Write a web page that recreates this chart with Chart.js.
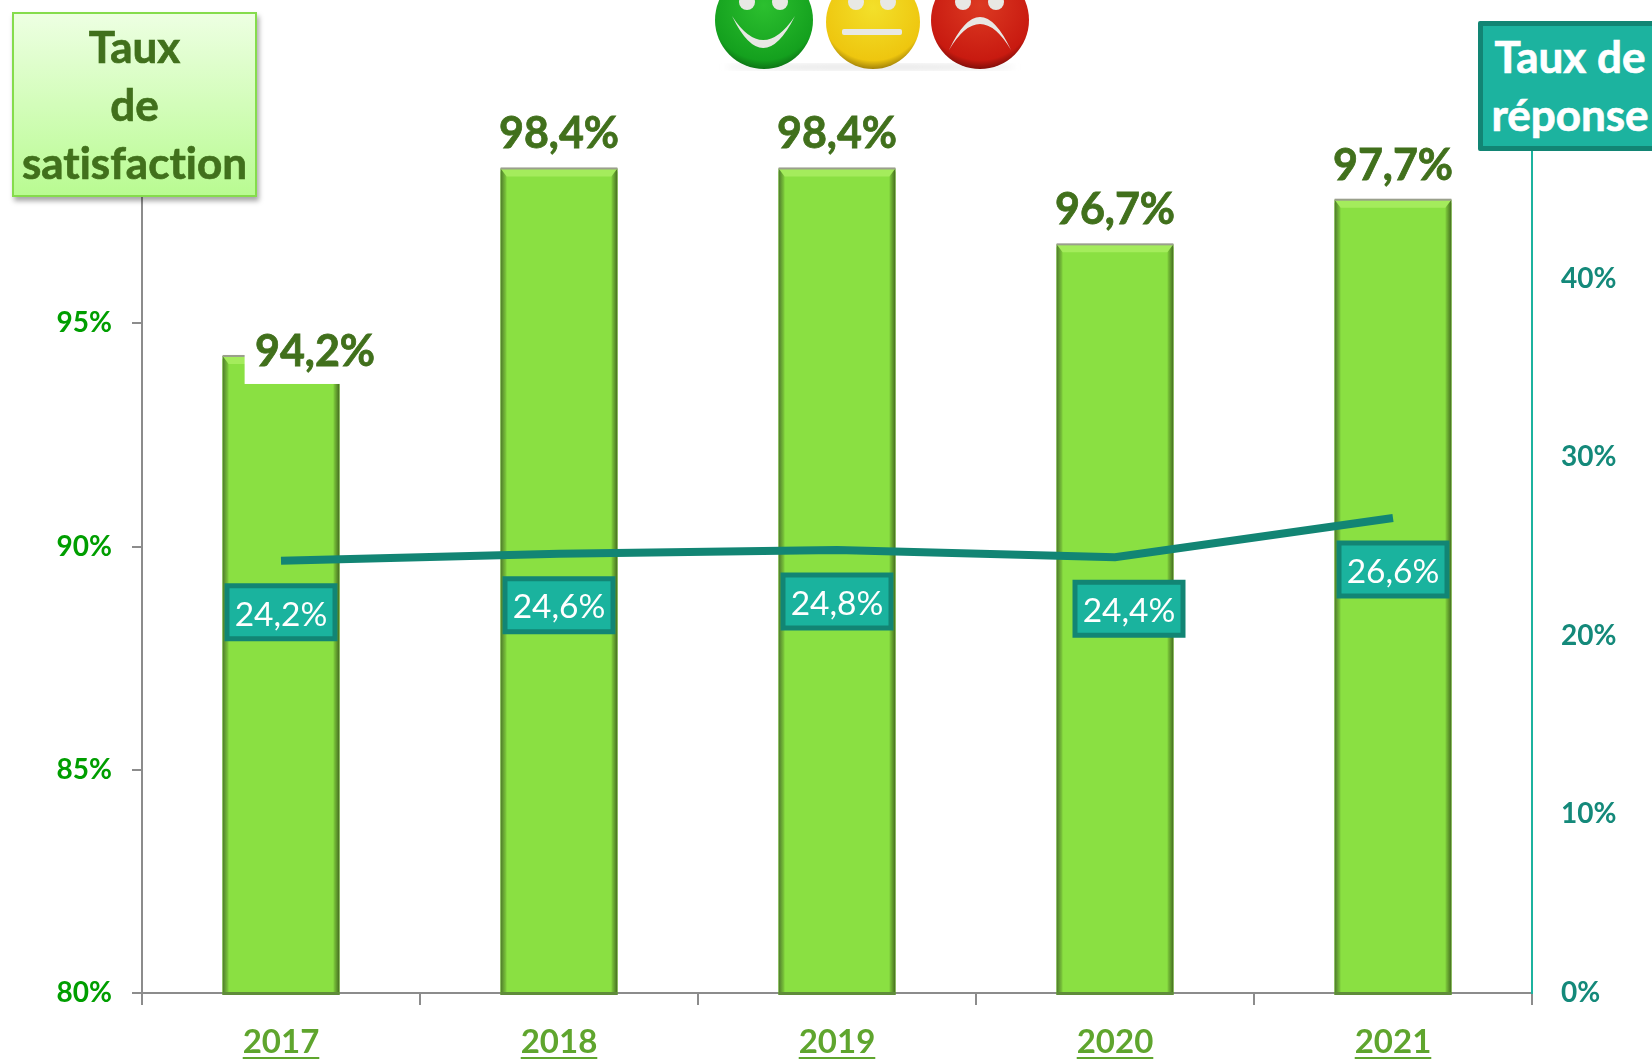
<!DOCTYPE html>
<html lang="fr">
<head>
    <meta charset="UTF-8">
    <title>Taux de satisfaction et taux de réponse</title>
    <script src="https://cdn.jsdelivr.net/npm/chart.js"></script>
    <style>
        html, body { margin: 0; padding: 0; background: #fff; overflow: hidden; }
        body { width: 1652px; height: 1059px; position: relative; font-family: Lato, sans-serif; font-variant-ligatures: none; }
        #graphique { position: absolute; left: 0; top: 0; }
        .cadre { position: absolute; box-sizing: border-box; text-align: center; font-weight: 700; font-size: 44px; -webkit-text-stroke: .7px currentColor; }
        #cadreSatisfaction {
            left: 12px; top: 12px; width: 245px; height: 185px; line-height: 58px; padding-top: 3px;
            color: #41701c; border: 2px solid #85dc4c;
            background: linear-gradient(#edffe2, #b9fb92);
            box-shadow: 2px 4px 5px rgba(0, 0, 0, .35);
        }
        #cadreReponse {
            left: 1478px; top: 21px; width: 190px; height: 130px; line-height: 58px; padding: 1px 6px 0 0;
            color: #fff; background: #1cb39f; border: 5px solid #128574; border-radius: 2px;
        }
        #visages { position: absolute; left: 700px; top: 0; }
    </style>
</head>
<body>
    <canvas id="graphique" width="1652" height="1059"></canvas>
    <div class="cadre" id="cadreSatisfaction">Taux<br>de<br>satisfaction</div>
    <div class="cadre" id="cadreReponse">Taux de<br>réponse</div>

    <svg id="visages" width="340" height="80" viewBox="700 0 340 80">
        <defs>
            <radialGradient id="vert" cx="50%" cy="35%" r="70%"><stop offset="0" stop-color="#2cc02f"/><stop offset=".8" stop-color="#14a01e"/><stop offset="1" stop-color="#0a5c10"/></radialGradient>
            <radialGradient id="jaune" cx="50%" cy="35%" r="70%"><stop offset="0" stop-color="#f3e02a"/><stop offset=".8" stop-color="#eec60f"/><stop offset="1" stop-color="#7a5e05"/></radialGradient>
            <radialGradient id="rouge" cx="50%" cy="35%" r="70%"><stop offset="0" stop-color="#dc3a22"/><stop offset=".8" stop-color="#c81a10"/><stop offset="1" stop-color="#5c0806"/></radialGradient>
            <filter id="flou"><feGaussianBlur stdDeviation="3"/></filter>
        </defs>
        <ellipse cx="870" cy="67" rx="145" ry="3" fill="#e4e4e4" filter="url(#flou)"/>
        <circle cx="764" cy="20" r="49" fill="url(#vert)"/>
        <circle cx="873" cy="22" r="47" fill="url(#jaune)"/>
        <circle cx="980" cy="20" r="49" fill="url(#rouge)"/>
        <g fill="#e8e8e4">
            <circle cx="747" cy="2" r="8"/><circle cx="780" cy="2" r="8"/>
            <circle cx="856" cy="2" r="8"/><circle cx="888" cy="2" r="8"/>
            <circle cx="963" cy="2" r="8"/><circle cx="996" cy="2" r="8"/>
            <path d="M732 16 Q763 80 795 16 Q763 64 732 16Z"/>
            <rect x="842" y="29" width="60" height="6" rx="2"/>
            <path d="M949 50 Q980 -16 1011 50 Q980 -2 949 50Z"/>
        </g>
    </svg>

    <script>
        // Données
        const annees = ['2017', '2018', '2019', '2020', '2021'];
        const tauxSatisfaction = [94.2, 98.4, 98.4, 96.7, 97.7];
        const tauxReponse = [24.2, 24.6, 24.8, 24.4, 26.6];

        const POLICE = 'Lato, sans-serif';
        const formatTaux = v => v.toFixed(1).replace('.', ',') + '%';

        // Relief des barres, étiquettes de valeur au-dessus
        const reliefBarres = {
            id: 'reliefBarres',
            afterDatasetDraw(chart, args) {
                if (args.index !== 0) return;
                const ctx = chart.ctx;
                args.meta.data.forEach((barre, i) => {
                    const g = barre.x - barre.width / 2, d = barre.x + barre.width / 2;
                    const h = barre.y - 3, b = chart.chartArea.bottom + 2;
                    const e = 6;
                    ctx.save();
                    ctx.fillStyle = '#8ae042';
                    ctx.fillRect(g, h, d - g, b - h);
                    const gradG = ctx.createLinearGradient(g, 0, g + e, 0);
                    gradG.addColorStop(0, '#4f7a2c');
                    gradG.addColorStop(1, '#80d03c');
                    ctx.fillStyle = gradG;
                    ctx.fillRect(g, h, e, b - h);
                    const gradD = ctx.createLinearGradient(d - e, 0, d, 0);
                    gradD.addColorStop(0, '#80d03c');
                    gradD.addColorStop(1, '#456c20');
                    ctx.fillStyle = gradD;
                    ctx.fillRect(d - e, h, e, b - h);
                    // biseau du haut
                    ctx.fillStyle = '#a4ec5c';
                    ctx.beginPath();
                    ctx.moveTo(g, h); ctx.lineTo(d, h); ctx.lineTo(d - e, h + e + 2); ctx.lineTo(g + e, h + e + 2);
                    ctx.closePath();
                    ctx.fill();
                    ctx.fillStyle = '#9a9f8c';
                    ctx.fillRect(g, h - 1, d - g, 2);
                    // bas de la barre
                    ctx.fillStyle = '#5f8c3a';
                    ctx.fillRect(g, b - 3, d - g, 3);

                    const premiere = i === 0;
                    const tx = premiere ? barre.x + 34 : barre.x;
                    if (premiere) {
                        // fond blanc sous l'étiquette de 2017
                        ctx.fillStyle = '#fff';
                        ctx.fillRect(g + 22, h - 10, d - g - 22 + 2, 38);
                    }
                    const ty = premiere ? h + 10 : h - 20;
                    ctx.font = '700 43px ' + POLICE;
                    ctx.fillStyle = '#41701c';
                    ctx.strokeStyle = '#41701c';
                    ctx.lineWidth = 0.8;
                    ctx.textAlign = 'center';
                    ctx.textBaseline = 'alphabetic';
                    ctx.fillText(formatTaux(tauxSatisfaction[i]), tx, ty);
                    ctx.strokeText(formatTaux(tauxSatisfaction[i]), tx, ty);
                    ctx.restore();
                });
            }
        };

        // Étiquettes du taux de réponse sous la courbe
        const etiquettesReponse = {
            id: 'etiquettesReponse',
            afterDatasetsDraw(chart) {
                const ctx = chart.ctx;
                chart.getDatasetMeta(1).data.forEach((pt, i) => {
                    const cx = i === 3 ? pt.x + 14 : pt.x;
                    const cy = pt.y + 52;
                    ctx.save();
                    ctx.fillStyle = '#1ab39e';
                    ctx.strokeStyle = '#128574';
                    ctx.lineWidth = 5;
                    ctx.beginPath();
                    ctx.rect(cx - 54, cy - 27, 108, 53);
                    ctx.fill();
                    ctx.stroke();
                    ctx.font = '400 33.5px ' + POLICE;
                    ctx.fillStyle = '#fff';
                    ctx.textAlign = 'center';
                    ctx.textBaseline = 'middle';
                    ctx.fillText(formatTaux(tauxReponse[i]), cx, cy + 2);
                    ctx.restore();
                });
                // années soulignées
                const x = chart.scales.x;
                ctx.save();
                ctx.font = '700 33px ' + POLICE;
                ctx.strokeStyle = '#5fa52e';
                ctx.lineWidth = 2;
                annees.forEach((a, i) => {
                    const px = x.getPixelForTick(i);
                    const l = ctx.measureText(a).width;
                    ctx.beginPath();
                    ctx.moveTo(px - l / 2, 1058);
                    ctx.lineTo(px + l / 2, 1058);
                    ctx.stroke();
                });
                ctx.restore();
            }
        };

        const ctx = document.getElementById('graphique').getContext('2d');
        new Chart(ctx, {
            data: {
                labels: annees,
                datasets: [
                    {
                        type: 'bar',
                        data: tauxSatisfaction,
                        yAxisID: 'y',
                        backgroundColor: '#8ae042',
                        barPercentage: 0.42,
                        categoryPercentage: 1,
                        order: 2
                    },
                    {
                        type: 'line',
                        data: tauxReponse,
                        yAxisID: 'y1',
                        borderColor: '#128574',
                        borderWidth: 8,
                        pointRadius: 0,
                        tension: 0,
                        order: 1
                    }
                ]
            },
            options: {
                responsive: false,
                animation: false,
                layout: { padding: { top: 100 } },
                plugins: { legend: { display: false }, tooltip: { enabled: false } },
                scales: {
                    x: {
                        offset: true,
                        afterFit: s => { s.height = 66; },
                        grid: { offset: true, drawOnChartArea: false, color: '#8c8c8c', lineWidth: 2, tickLength: 12 },
                        border: { color: '#8c8c8c', width: 2 },
                        ticks: { color: '#5fa52e', font: { family: POLICE, size: 33, weight: '700' }, padding: 18, maxRotation: 0 }
                    },
                    y: {
                        position: 'left',
                        min: 80,
                        max: 100,
                        afterFit: s => { s.width = 142; },
                        grid: { drawOnChartArea: false, color: '#8c8c8c', lineWidth: 2, tickLength: 10 },
                        border: { color: '#8c8c8c', width: 2 },
                        ticks: { stepSize: 5, color: '#009e00', font: { family: POLICE, size: 28, weight: '700' }, padding: 20, callback: v => v + '%' }
                    },
                    y1: {
                        position: 'right',
                        min: 0,
                        max: 50,
                        afterFit: s => { s.width = 120; },
                        grid: { drawOnChartArea: false, drawTicks: false },
                        border: { color: '#1cb39f', width: 2 },
                        ticks: { stepSize: 10, color: '#14897a', font: { family: POLICE, size: 28, weight: '700' }, padding: 29, callback: v => v + '%' }
                    }
                }
            },
            plugins: [reliefBarres, etiquettesReponse]
        });
    </script>
</body>
</html>
